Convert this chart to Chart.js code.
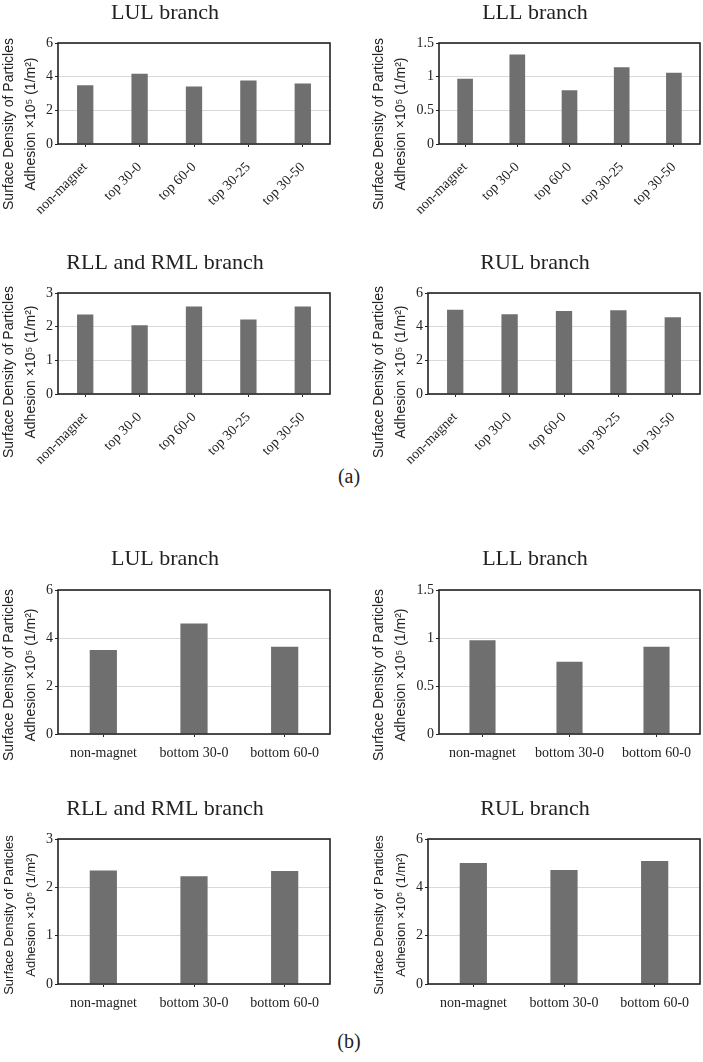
<!DOCTYPE html>
<html>
<head>
<meta charset="utf-8">
<script src="https://cdn.jsdelivr.net/npm/chart.js@4.4.1/dist/chart.umd.min.js"></script>
<style>
  body { margin: 0; background: #fff; }
  #wrap { position: relative; width: 703px; height: 1062px; overflow: hidden; background: #fff; }
  #wrap canvas { position: absolute; }
  .cap { position: absolute; width: 60px; margin-left: -30px; text-align: center;
         font: 20px "Liberation Serif", "Times New Roman", serif; color: #222; }
</style>
</head>
<body>
<div id="wrap">
  <div class="cap" style="left:349px; top:465px;">(a)</div>
  <div class="cap" style="left:349px; top:1030px;">(b)</div>
</div>
<script>
// categories
const catsTop = ['non-magnet', 'top 30-0', 'top 60-0', 'top 30-25', 'top 30-50'];
const catsBottom = ['non-magnet', 'bottom 30-0', 'bottom 60-0'];

// series values (x10^5 1/m^2)
const lulTop = [3.49, 4.18, 3.41, 3.77, 3.59];
const lllTop = [0.97, 1.33, 0.80, 1.14, 1.06];
const rllTop = [2.36, 2.04, 2.60, 2.21, 2.60];
const rulTop = [5.01, 4.74, 4.93, 4.97, 4.56];

const lulBottom = [3.50, 4.60, 3.64];
const lllBottom = [0.976, 0.753, 0.91];
const rllBottom = [2.35, 2.23, 2.34];
const rulBottom = [5.01, 4.72, 5.09];

// titles and y tick settings
const branchTitles = ['LUL branch', 'LLL branch', 'RLL and RML branch', 'RUL branch'];
const yAxisTitle = ['Surface Density of Particles', 'Adhesion \u00d710\u2075 (1/m\u00b2)'];
const yMax = [6, 1.5, 3, 6];
const yStep = [2, 0.5, 1, 2];

// where each panel sits on the page
const layout = [
  { cats: catsTop, vals: lulTop, k: 0, left: 0,   width: 340, titleY: 12.5, top: 43,  bottom: 144, plotLeft: 58,  plotRight: 330, xH: 72, rot: 45, yMid: 124, ySize: 14 },
  { cats: catsTop, vals: lllTop, k: 1, left: 370, width: 333, titleY: 12.5, top: 43,  bottom: 144, plotLeft: 439, plotRight: 700, xH: 72, rot: 45, yMid: 124, ySize: 14 },
  { cats: catsTop, vals: rllTop, k: 2, left: 0,   width: 340, titleY: 262.5, top: 293, bottom: 394, plotLeft: 58,  plotRight: 330, xH: 72, rot: 45, yMid: 372, ySize: 14 },
  { cats: catsTop, vals: rulTop, k: 3, left: 370, width: 333, titleY: 262.5, top: 293, bottom: 394, plotLeft: 428, plotRight: 700, xH: 72, rot: 45, yMid: 372, ySize: 14 },
  { cats: catsBottom, vals: lulBottom, k: 0, left: 0,   width: 340, titleY: 559, top: 590, bottom: 734, plotLeft: 58,  plotRight: 330, xH: 32, rot: 0, yMid: 675, ySize: 14 },
  { cats: catsBottom, vals: lllBottom, k: 1, left: 370, width: 333, titleY: 559, top: 590, bottom: 734, plotLeft: 439, plotRight: 700, xH: 32, rot: 0, yMid: 675, ySize: 14 },
  { cats: catsBottom, vals: rllBottom, k: 2, left: 0,   width: 340, titleY: 809, top: 839, bottom: 984, plotLeft: 58,  plotRight: 330, xH: 32, rot: 0, yMid: 915, ySize: 13 },
  { cats: catsBottom, vals: rulBottom, k: 3, left: 370, width: 333, titleY: 809, top: 839, bottom: 984, plotLeft: 428, plotRight: 700, xH: 32, rot: 0, yMid: 915, ySize: 13 }
];

const serif = '"Liberation Serif", "Times New Roman", serif';
const sans = '"Liberation Sans", Arial, sans-serif';
const ink = '#222';

// frame round the plot area
const framePlugin = {
  id: 'frame',
  afterDatasetsDraw(chart) {
    const a = chart.chartArea;
    const ctx = chart.ctx;
    ctx.save();
    ctx.strokeStyle = ink;
    ctx.lineWidth = 1.6;
    ctx.strokeRect(a.left, a.top, a.right - a.left, a.bottom - a.top);
    ctx.restore();
  }
};

// two-line rotated y title, centred on plot + labels like the original
const yTitlePlugin = {
  id: 'yTitle',
  afterDraw(chart, args, opts) {
    const ctx = chart.ctx;
    ctx.save();
    ctx.fillStyle = ink;
    ctx.font = opts.size + 'px ' + sans;
    ctx.textAlign = 'center';
    ctx.textBaseline = 'middle';
    opts.lines.forEach((t, i) => {
      ctx.save();
      ctx.translate(opts.xs[i], opts.mid);
      ctx.rotate(-Math.PI / 2);
      ctx.fillText(t, 0, 0);
      ctx.restore();
    });
    ctx.restore();
  }
};

const wrap = document.getElementById('wrap');

layout.forEach((p, idx) => {
  const canvasTop = Math.max(0, Math.round(p.titleY - 13));
  const height = p.bottom - canvasTop + p.xH;
  const padTop = Math.max(0, p.titleY - 13.2 - canvasTop);
  const padBottom = p.top - canvasTop - 26.4 - padTop;

  const cv = document.createElement('canvas');
  cv.id = 'chart' + (idx + 1);
  cv.width = p.width;
  cv.height = height;
  cv.style.left = p.left + 'px';
  cv.style.top = canvasTop + 'px';
  wrap.appendChild(cv);

  new Chart(cv.getContext('2d'), {
    type: 'bar',
    data: {
      labels: p.cats,
      datasets: [{
        data: p.vals,
        backgroundColor: '#6f6f6f',
        borderWidth: 0,
        barPercentage: 0.3,
        categoryPercentage: 1
      }]
    },
    options: {
      responsive: false,
      animation: false,
      layout: { padding: { left: 0, right: p.left + p.width - p.plotRight, top: 0, bottom: 0 } },
      plugins: {
        legend: { display: false },
        tooltip: { enabled: false },
        title: {
          display: true,
          text: branchTitles[p.k],
          color: ink,
          font: { family: serif, size: 22, weight: 'normal' },
          padding: { top: padTop, bottom: padBottom }
        },
        yTitle: { lines: yAxisTitle, xs: [9.5, 31], mid: p.yMid - canvasTop, size: p.ySize }
      },
      scales: {
        x: {
          offset: true,
          border: { display: false },
          grid: { display: true, offset: false, drawOnChartArea: false, color: ink, tickLength: 3, lineWidth: 1 },
          ticks: {
            autoSkip: false,
            minRotation: p.rot,
            maxRotation: p.rot,
            padding: p.rot ? 12 : 8,
            color: ink,
            font: { family: serif, size: 14 }
          },
          afterFit(scale) { scale.height = p.xH; }
        },
        y: {
          min: 0,
          max: yMax[p.k],
          border: { display: false },
          grid: { color: '#d9d9d9', tickColor: ink, tickLength: 3, lineWidth: 1 },
          ticks: {
            stepSize: yStep[p.k],
            padding: 2,
            color: ink,
            font: { family: serif, size: 14 },
            callback: v => String(v)
          },
          afterFit(scale) { scale.width = p.plotLeft - p.left; }
        }
      }
    },
    plugins: [framePlugin, yTitlePlugin]
  });
});
</script>
</body>
</html>
